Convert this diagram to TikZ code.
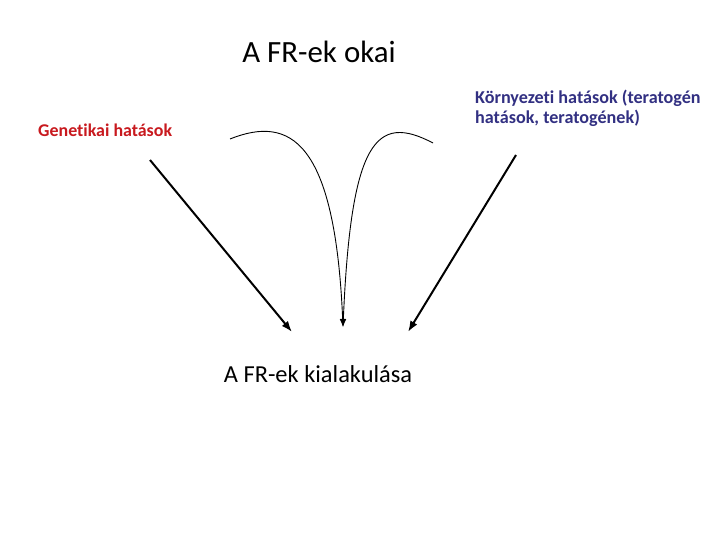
\documentclass[tikz,border=0pt]{standalone}
\usepackage{fontspec}
\setmainfont{Carlito}[Ligatures=NoCommon]
\usepackage{tikz}
\usetikzlibrary{arrows.meta}
\definecolor{genred}{RGB}{200,25,30}
\definecolor{kornyblue}{RGB}{50,48,130}
\tikzstyle{cim} = [inner sep=0pt, font=\fontsize{31}{36}\selectfont]
\tikzstyle{alcim} = [inner sep=0pt, font=\fontsize{24.5}{30}\selectfont]
\tikzstyle{hatas} = [inner sep=0pt, font=\bfseries\fontsize{18}{20}\selectfont]
\tikzstyle{arrow} = [line width=2pt,-{Latex[length=11bp,width=8bp]}]
\tikzstyle{vekony} = [line width=0.9pt,-{Latex[length=8bp,width=6bp]}]

\begin{document}
\begin{tikzpicture}[x=1bp, y=-1bp]
                \useasboundingbox (0,0) rectangle (720,540);
                \node (okai) [cim, anchor=base] at (319,63) {A FR-ek okai};
                \node (kial) [alcim, anchor=base] at (318,382) {A FR-ek kialakulása};
                \node (gen) [hatas, text=genred, anchor=base west] at (38,137) {Genetikai hatások};
                \node (korny) [hatas, text=kornyblue, anchor=base west, align=left,
                    font=\bfseries\fontsize{18.2}{21}\selectfont] at (475,124) {Környezeti hatások (teratogén\\hatások, teratogének)};

                \coordinate (genkezd) at (150,160);
                \coordinate (genveg) at (292,332);
                \coordinate (kornykezd) at (516,155);
                \coordinate (kornyveg) at (408,332);
                \coordinate (balkezd) at (230,139);
                \coordinate (jobbkezd) at (433,143);
                \coordinate (csucs) at (343,327);

                \draw [arrow] (genkezd) -- (genveg);
                \draw [arrow] (kornykezd) -- (kornyveg);
                \draw [vekony] (balkezd) .. controls (290,115) and (335,140) .. (csucs);
                \draw [vekony] (jobbkezd) .. controls (376,113) and (351,140) .. (csucs);
            \end{tikzpicture}
\end{document}
